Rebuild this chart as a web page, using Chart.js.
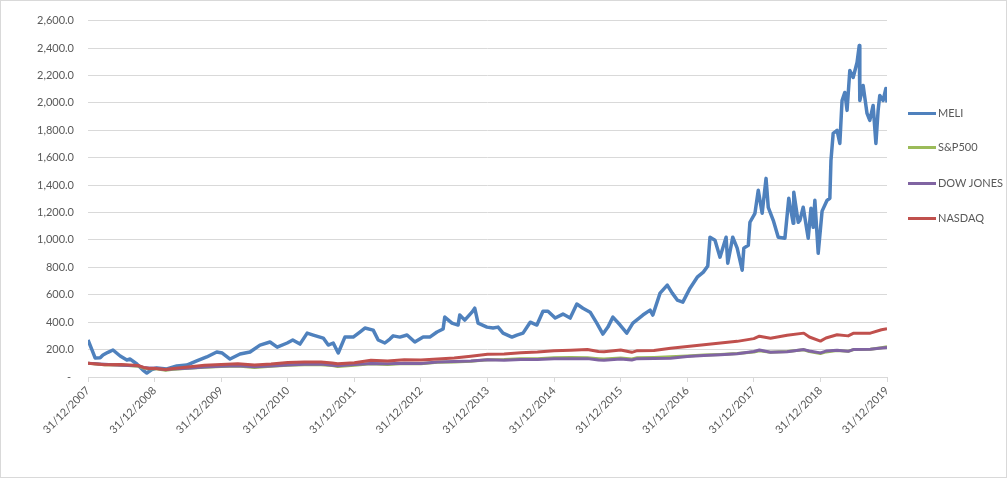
<!DOCTYPE html>
<html>
<head>
<meta charset="utf-8">
<script src="https://cdn.jsdelivr.net/npm/chart.js@4/dist/chart.umd.min.js"></script>
<style>
  body { margin: 0; background: #fff; }
  #wrap { position: relative; width: 1007px; height: 478px; }
  #chart { position: absolute; left: 0; top: 0; }
  #frame { position: absolute; left: 0; top: 0; width: 1007px; height: 478px; box-sizing: border-box;
           border: 1px solid #d9d9d9; pointer-events: none; }
  #legend { position: absolute; left: 908px; top: 0; font: 11px Lato, sans-serif; color: #595959; }
  .item { position: absolute; left: 0; height: 14px; line-height: 14px; white-space: nowrap; display: flex; align-items: center; }
  .swatch { width: 28px; height: 3px; margin-right: 2px; }
</style>
</head>
<body>
<div id="wrap">
  <canvas id="chart" width="1007" height="478"></canvas>
  <div id="legend"></div>
  <div id="frame"></div>
</div>
<script>
// series names / colours (Excel 2010 palette)
const seriesNames = ['MELI', 'S&P500', 'DOW JONES', 'NASDAQ'];
const seriesColors = ['#4F81BD', '#9BBB59', '#8064A2', '#C0504D'];
const seriesWidths = [3.5, 3, 3, 3];

// x axis: months after 31/12/2007, labelled every 12 months
const yearTicks = ['31/12/2007', '31/12/2008', '31/12/2009', '31/12/2010', '31/12/2011', '31/12/2012',
  '31/12/2013', '31/12/2014', '31/12/2015', '31/12/2016', '31/12/2017', '31/12/2018', '31/12/2019'];

// MELI
const meliMonths = [0, 0.7, 1.3, 2.2, 2.7, 3.6, 4.5, 5.8, 7.0, 7.6, 8.8, 9.9, 10.6, 11.5, 12.4, 14.2, 16.0, 17.8,
  19.6, 21.4, 23.2, 24.2, 25.6, 27.4, 29.2, 31.0, 32.8, 34.1, 35.9, 36.9, 38.2, 39.5, 40.6, 42.4, 43.3, 44.2,
  45.1, 46.3, 47.8, 49.0, 49.9, 51.4, 52.3, 53.5, 54.4, 55.0, 56.2, 57.5, 58.9, 60.4, 61.6, 62.9, 64.0, 64.3,
  65.6, 66.7, 67.0, 67.9, 69.2, 69.7, 70.3, 71.9, 73.0, 73.9, 74.8, 76.4, 77.3, 78.4, 79.7, 80.9, 82.0, 82.9,
  84.2, 85.6, 86.9, 88.1, 89.2, 90.5, 91.7, 92.8, 93.7, 94.6, 95.9, 97.1, 98.2, 100.0, 101.3, 101.8, 103.1,
  104.4, 105.3, 106.2, 107.2, 108.5, 109.8, 110.9, 111.7, 112.1, 113.0, 113.9, 115.0, 115.3, 116.2, 117.0,
  117.9, 118.2, 119.0, 119.3, 120.2, 120.8, 121.5, 122.2, 122.6, 123.5, 124.4, 125.6, 126.3, 127.1, 127.2,
  128.0, 128.3, 128.9, 129.8, 130.3, 130.7, 131.0, 131.6, 132.3, 133.2, 133.7, 133.9, 134.3, 135.0, 135.5,
  135.9, 136.4, 136.8, 137.3, 137.9, 138.6, 139.0, 139.1, 139.7, 140.4, 140.9, 141.5, 142.0, 142.4, 142.7,
  143.3, 143.8, 144.0];
const meliValues = [270, 200, 138, 140, 160, 180, 197, 153, 124, 131, 95, 51, 29, 55, 66, 58, 80, 87,
  117, 146, 182, 175, 131, 168, 182, 233, 255, 218, 248, 270, 240, 320, 306, 284, 233, 248,
  175, 291, 291, 328, 357, 342, 270, 248, 277, 300, 291, 306, 255, 291, 291, 328, 350, 437,
  393, 379, 452, 415, 473, 502, 393, 364, 357, 364, 320, 291, 306, 320, 400, 379, 480, 480,
  430, 459, 430, 532, 502, 473, 393, 313, 364, 437, 379, 320, 393, 452, 488, 452, 612,
  670, 612, 561, 546, 648, 728, 765, 810, 1020, 998, 874, 1020, 830, 1020, 940,
  779, 940, 961, 1129, 1194, 1362, 1194, 1449, 1238, 1143, 1020, 1012, 1304, 1121, 1347,
  1129, 1143, 1238, 1012, 1231, 1092, 1289, 903, 1210, 1289, 1304, 1580, 1777, 1799, 1704,
  2017, 2076, 1945, 2236, 2185, 2294, 2418, 2017, 2127, 1923, 1872, 1981, 1704, 1945, 2054,
  2017, 2105, 2003];

// the three indices share one set of dates
const indexMonths = [0, 3, 6, 9, 10, 11, 12, 14, 15, 18, 21, 24, 27, 30, 33, 36, 39, 42, 44, 45, 48, 51, 54, 57,
  60, 63, 66, 69, 72, 75, 78, 81, 84, 87, 90, 92, 93, 96, 98, 99, 102, 105, 108, 111, 114, 117, 120, 121, 123,
  126, 129, 130, 132, 133, 135, 137, 138, 141, 143, 144];
const spxValues = [100, 90, 87, 79, 66, 61, 62, 50, 54, 63, 72, 76, 80, 70, 78, 86, 90, 90, 83, 77, 86, 96, 92, 98,
  97, 107, 110, 115, 126, 128, 134, 134, 140, 142, 141, 134, 131, 139, 132, 141, 143, 147, 153, 161, 165, 171, 182,
  192, 180, 186, 199, 185, 171, 183, 193, 188, 200, 203, 214, 220];
const dowValues = [100, 93, 85, 82, 70, 66, 66, 53, 58, 64, 73, 79, 82, 74, 81, 87, 93, 94, 86, 82, 92, 99, 96, 101,
  99, 110, 113, 116, 125, 123, 127, 128, 134, 133, 134, 124, 123, 131, 124, 134, 135, 137, 149, 156, 162, 169, 186,
  197, 181, 184, 200, 190, 176, 189, 195, 187, 201, 203, 211, 215];
const nasdaqValues = [100, 90, 92, 84, 70, 62, 62, 55, 60, 73, 85, 92, 97, 88, 94, 105, 110, 110, 102, 97, 104, 122,
  117, 125, 124, 131, 139, 152, 166, 168, 177, 183, 192, 196, 200, 186, 185, 197, 180, 192, 194, 210, 222, 236, 248,
  260, 280, 298, 283, 305, 320, 292, 262, 285, 308, 300, 320, 320, 345, 352];

const pairs = (xs, ys) => xs.map((x, i) => ({ x: x, y: ys[i] }));
const seriesData = [
  pairs(meliMonths, meliValues),
  pairs(indexMonths, spxValues),
  pairs(indexMonths, dowValues),
  pairs(indexMonths, nasdaqValues)
];

const font = { family: 'Lato, sans-serif', size: 11 };
const textColor = '#595959';
const gridColor = '#d9d9d9';

const fmt = v => v === 0 ? '- ' : v.toLocaleString('en-US', { minimumFractionDigits: 1, maximumFractionDigits: 1 });

new Chart(document.getElementById('chart'), {
  type: 'line',
  data: {
    datasets: seriesNames.map((name, i) => ({
      label: name,
      data: seriesData[i],
      borderColor: seriesColors[i],
      backgroundColor: seriesColors[i],
      borderWidth: seriesWidths[i],
      borderJoinStyle: 'round',
      pointRadius: 0,
      tension: 0,
      order: seriesNames.length - i   // later series drawn on top, like Excel
    }))
  },
  options: {
    responsive: false,
    animation: false,
    layout: { padding: { top: 20, right: 120, bottom: 0, left: 0 } },
    plugins: { legend: { display: false }, tooltip: { enabled: false } },
    scales: {
      x: {
        type: 'linear',
        min: 0,
        max: 144,
        afterFit: s => { s.height = 101; },
        afterBuildTicks: s => { s.ticks = yearTicks.map((t, i) => ({ value: i * 12 })); },
        ticks: {
          autoSkip: false,
          minRotation: 45,
          maxRotation: 45,
          padding: 2,
          font: font,
          color: textColor,
          callback: v => yearTicks[Math.round(v / 12)]
        },
        grid: { drawOnChartArea: false, tickLength: 5, color: gridColor },
        border: { color: gridColor }
      },
      y: {
        min: 0,
        max: 2600,
        afterFit: s => { s.width = 88; },
        ticks: { stepSize: 200, padding: 14, font: font, color: textColor, callback: fmt },
        grid: { color: gridColor, drawTicks: false },
        border: { display: false }
      }
    }
  }
});

// legend, Excel style at the right
const legendTops = [113, 147, 183, 218];
const legend = document.getElementById('legend');
seriesNames.forEach((name, i) => {
  const item = document.createElement('div');
  item.className = 'item';
  item.style.top = (legendTops[i] - 7) + 'px';
  const sw = document.createElement('span');
  sw.className = 'swatch';
  sw.style.background = seriesColors[i];
  const label = document.createElement('span');
  label.textContent = name;
  item.appendChild(sw);
  item.appendChild(label);
  legend.appendChild(item);
});
</script>
</body>
</html>
